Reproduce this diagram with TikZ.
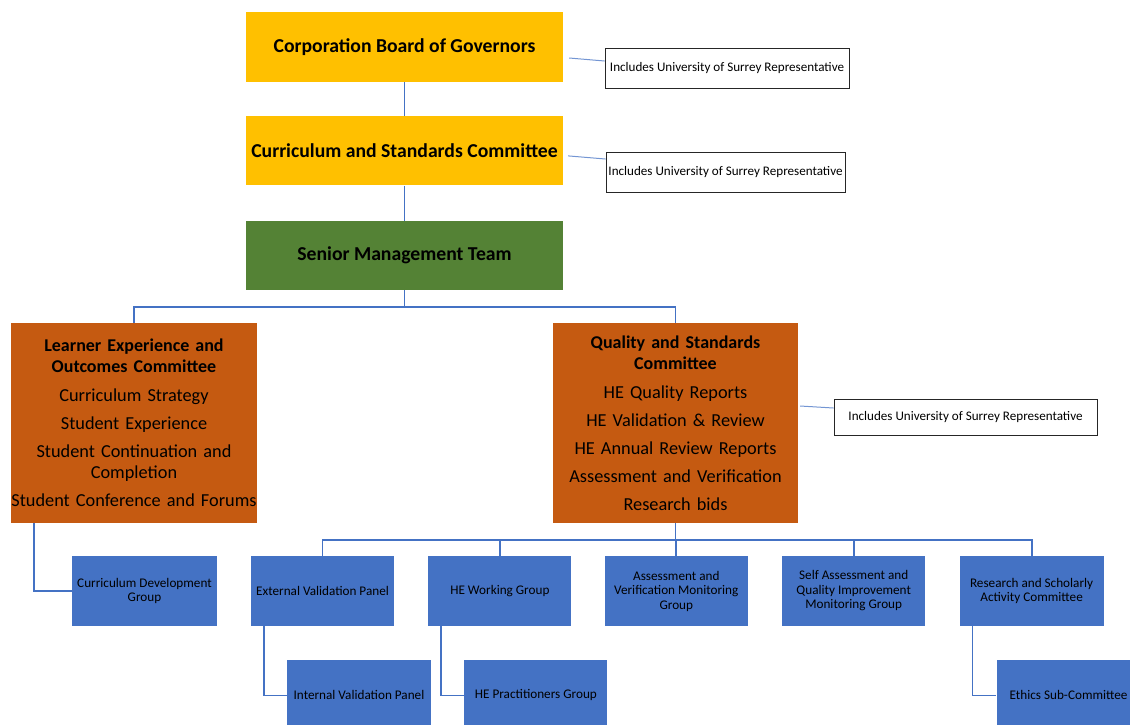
\documentclass[tikz,border=0pt]{standalone}
\usepackage{fontspec}
\setmainfont{Carlito}
\usetikzlibrary{positioning}
\definecolor{gold}{HTML}{FFC000}
\definecolor{leaf}{HTML}{548235}
\definecolor{rust}{HTML}{C55A11}
\definecolor{steel}{HTML}{4472C4}
\definecolor{wire}{HTML}{4472C4}

\begin{document}
\begin{tikzpicture}[x=1pt,y=-1pt,
	board/.style={fill=gold,inner sep=0pt,minimum width=317pt,minimum height=70pt,font=\bfseries\fontsize{19.7}{22}\selectfont},
	comm/.style={fill=rust,inner sep=0pt,text width=246pt,minimum height=200pt,align=center,font=\fontsize{18.3}{21}\selectfont},
	grp/.style={fill=steel,inner sep=0pt,minimum width=143pt,minimum height=70pt,align=center,font=\fontsize{13.2}{14.5}\selectfont},
	rep/.style={draw=black!85,line width=0.9pt,fill=white,inner sep=0pt,minimum height=40pt,font=\fontsize{13.1}{15}\selectfont},
	link/.style={draw=wire,line width=1.8pt},
	replink/.style={draw=wire!75,line width=1pt}]
	\useasboundingbox (0,0) rectangle (1130,724);
	\clip (0,0) rectangle (1130,724);
	
	\node[board] (gov) at (404.5,47) {Corporation Board of Governors};
	\node[board,below=34pt of gov,minimum height=69pt] (csc) {Curriculum and Standards Committee};
	\node[board,fill=leaf,below=35pt of csc,minimum height=69pt] (smt) {Senior Management Team};
	
	\node[rep,minimum width=244pt] (rep1) at (727,68) {Includes University of Surrey Representative};
	\node[rep,minimum width=239pt] (rep2) at (725.5,172) {Includes University of Surrey Representative};
	\node[rep,minimum width=263pt,minimum height=36pt] (rep3) at (965.5,417) {Includes University of Surrey Representative};
	
	\node[comm] (leoc) at (134,423) {{\bfseries\fontsize{18}{20}\selectfont Learner Experience and\\ Outcomes Committee}\\[8pt] Curriculum Strategy\\[7pt] Student Experience\\[7pt] Student Continuation and\\ Completion\\[7pt] \makebox[\linewidth]{Student Conference and Forums}};
	\node[comm,text width=245pt] (qsc) at (675.5,423) {{\bfseries\fontsize{18}{20}\selectfont Quality and Standards\\ Committee}\\[8pt] HE Quality Reports\\[7pt] HE Validation \& Review\\[7pt] HE Annual Review Reports\\[7pt] Assessment and Verification\\[7pt] Research bids};
	
	\node[grp,minimum width=145pt] (cdg) at (144.5,591) {Curriculum Development\\ Group};
	\node[grp] (evp) at (322.5,591) {External Validation Panel};
	\node[grp,right=34pt of evp] (hewg) {HE Working Group};
	\node[grp,right=33pt of hewg] (avmg) {Assessment and\\ Verification Monitoring\\ Group};
	\node[grp,right=34pt of avmg] (saqi) {Self Assessment and\\ Quality Improvement\\ Monitoring Group};
	\node[grp,right=34pt of saqi,minimum width=144pt] (rsac) {Research and Scholarly\\ Activity Committee};
	
	\node[grp,minimum width=144pt,below=34pt of evp,xshift=36.5pt] (ivp) {Internal Validation Panel};
	\node[grp,below=34pt of hewg,xshift=36pt] (hepg) {HE Practitioners Group};
	\node[grp,minimum width=144pt,below=34pt of rsac,xshift=37pt] (eth) {Ethics Sub-Committee};
	
	\draw[link] (gov) -- (csc);
	\draw[link] (csc) -- (smt);
	\draw[link] (smt.south) -- ++(0,17) -| (leoc.north);
	\draw[link] (smt.south) ++(0,17) -| (qsc.north);
	\draw[link] (qsc.south) -- ++(0,17);
	\foreach \g in {evp,hewg,avmg,saqi,rsac}
		\draw[link] (qsc.south) ++(0,17) -| (\g.north);
	\draw[link] ([xshift=23pt]leoc.south west) |- (cdg.west);
	\draw[link] ([xshift=13pt]evp.south west) |- (ivp.west);
	\draw[link] ([xshift=13pt]hewg.south west) |- (hepg.west);
	\draw[link] ([xshift=13pt]rsac.south west) |- (eth.west);
	
	\draw[replink] ([xshift=6pt,yshift=-11pt]gov.east) -- ([yshift=7pt]rep1.west);
	\draw[replink] ([xshift=5pt,yshift=-5pt]csc.east) -- ([yshift=13pt]rep2.west);
	\draw[replink] ([xshift=2pt,yshift=17pt]qsc.east) -- ([yshift=9pt]rep3.west);
\end{tikzpicture}
\end{document}
